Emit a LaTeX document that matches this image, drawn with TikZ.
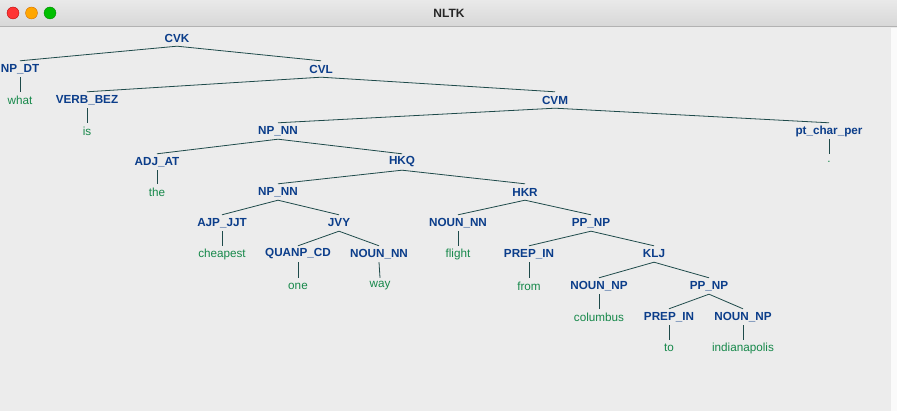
\documentclass[tikz,border=0pt]{standalone}
\usepackage{fontspec}
\setmainfont{Liberation Sans}
\definecolor{labc}{HTML}{0B3D8A}
\definecolor{leafc}{HTML}{16884A}
\definecolor{edgec}{HTML}{1E4A4A}
\definecolor{winbg}{HTML}{ECECEC}
\definecolor{titletop}{HTML}{E9E9E9}
\definecolor{titlebot}{HTML}{D7D7D7}
\tikzset{
  lab/.style={inner sep=0pt, minimum height=16pt, text=labc, font=\fontsize{11.7}{12}\selectfont\bfseries},
  leaf/.style={inner sep=0pt, minimum height=16pt, text=leafc, font=\fontsize{11.7}{12}\selectfont},
  edge/.style={draw=edgec, line width=0.8pt},
  light/.style={circle, inner sep=0pt, minimum size=12pt}
}
\begin{document}
\begin{tikzpicture}[x=1pt,y=-1pt]
\useasboundingbox (0,0) rectangle (897,411);
% window
\fill[winbg] (0,0) rectangle (897,411);
\shade[top color=titletop, bottom color=titlebot] (0,0) rectangle (897,27);
\draw[color=black!30, line width=1pt] (0,27) -- (897,27);
\fill[white!96!gray] (890,28) rectangle (897,411);
\draw[color=black!8, line width=0.8pt] (890,28) -- (890,411);
\node[light, fill=red!80!white, draw=red!70!black, line width=0.3pt] (r) at (13,13) {};
\node[light, fill=orange!70!yellow, draw=orange!80!black, line width=0.3pt] (y) at (31.5,13) {};
\node[light, fill=green!75!black, draw=green!50!black, line width=0.3pt] (g) at (50,13) {};
\node[font=\fontsize{12}{13}\selectfont\bfseries, text=black!85] (title) at (449,13.5) {NLTK};
% tree nodes
\node[lab] (cvk) at (177,38) {CVK};
\node[lab] (npdt) at (20,69) {NP\_DT};
\node[lab] (cvl) at (321,69) {CVL};
\node[leaf] (what) at (20,100) {what};
\node[lab] (vb) at (87,100) {VERB\_BEZ};
\node[lab] (cvm) at (555,100) {CVM};
\node[leaf] (is) at (87,131) {is};
\node[lab] (npnn1) at (278,131) {NP\_NN};
\node[lab] (pt) at (829,131) {pt\_char\_per};
\node[lab] (adj) at (157,162) {ADJ\_AT};
\node[lab] (hkq) at (402,162) {HKQ};
\node[leaf] (dot) at (829,162) {.};
\node[leaf] (the) at (157,192) {the};
\node[lab] (npnn2) at (278,192) {NP\_NN};
\node[lab] (hkr) at (525,192) {HKR};
\node[lab] (ajp) at (222,223) {AJP\_JJT};
\node[lab] (jvy) at (339,223) {JVY};
\node[lab] (nounnn1) at (458,223) {NOUN\_NN};
\node[lab] (ppnp1) at (591,223) {PP\_NP};
\node[leaf] (cheapest) at (222,254) {cheapest};
\node[lab] (quanp) at (298,254) {QUANP\_CD};
\node[lab] (nounnn2) at (379,254) {NOUN\_NN};
\node[leaf] (flight) at (458,254) {flight};
\node[lab] (prepin1) at (529,254) {PREP\_IN};
\node[lab] (klj) at (654,254) {KLJ};
\node[leaf] (one) at (298,286) {one};
\node[leaf] (way) at (380,286) {way};
\node[leaf] (from) at (529,286) {from};
\node[lab] (nounnp1) at (599,286) {NOUN\_NP};
\node[lab] (ppnp2) at (709,286) {PP\_NP};
\node[leaf] (columbus) at (599,317) {columbus};
\node[lab] (prepin2) at (669,317) {PREP\_IN};
\node[lab] (nounnp2) at (743,317) {NOUN\_NP};
\node[leaf] (to) at (669,348) {to};
\node[leaf] (indy) at (743,348) {indianapolis};
% edges
\foreach \p/\c in {cvk/npdt, cvk/cvl, npdt/what, cvl/vb, cvl/cvm, vb/is,
  cvm/npnn1, cvm/pt, npnn1/adj, npnn1/hkq, pt/dot, adj/the,
  hkq/npnn2, hkq/hkr, npnn2/ajp, npnn2/jvy, hkr/nounnn1, hkr/ppnp1,
  ajp/cheapest, jvy/quanp, jvy/nounnn2, nounnn1/flight,
  ppnp1/prepin1, ppnp1/klj, quanp/one, nounnn2/way, prepin1/from,
  klj/nounnp1, klj/ppnp2, nounnp1/columbus, ppnp2/prepin2, ppnp2/nounnp2,
  prepin2/to, nounnp2/indy}
  \draw[edge] (\p.south) -- (\c.north);
\end{tikzpicture}
\end{document}
